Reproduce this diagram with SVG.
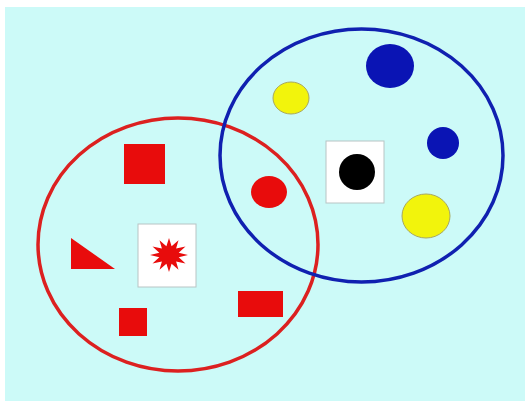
<svg xmlns="http://www.w3.org/2000/svg" width="525" height="401" viewBox="0 0 525 401">
<style>
.red{fill:#e80c0c}
.blue{fill:#0a14b4}
.yellow{fill:#f2f40c;stroke:#a8a860;stroke-width:1}
.box{fill:#ffffff;stroke:#b8c4c4;stroke-width:1}
.set{fill:none;stroke-width:3.5}
</style>
<rect x="0" y="0" width="525" height="401" fill="#ffffff"/>
<rect x="5" y="7" width="520" height="394" fill="#ccfaf8"/>
<g id="set-red"><ellipse class="set" cx="178" cy="244.5" rx="140" ry="126.5" stroke="#dc2020"/></g>
<g id="set-blue"><ellipse class="set" cx="361.5" cy="155.5" rx="141.5" ry="126.5" stroke="#1020b0"/></g>
<g id="red-square"><rect class="red" x="124" y="144" width="41" height="40"/></g>
<g id="red-triangle"><polygon class="red" points="71,238 71,269 115,269"/></g>
<g id="star-box"><rect class="box" x="138" y="224" width="58" height="63"/>
<polygon class="red" points="188,255 178.7,257.3 185.5,263.5 176.1,261.4 178.5,269.7 171.6,263.7 169,272 166.4,263.7 159.5,269.7 161.9,261.4 152.5,263.5 159.3,257.3 150,255 159.3,252.7 152.5,246.5 161.9,248.6 159.5,240.3 166.4,246.3 169,238 171.6,246.3 178.5,240.3 176.1,248.6 185.5,246.5 178.7,252.7"/></g>
<g id="red-small-square"><rect class="red" x="119" y="308" width="28" height="28"/></g>
<g id="red-rect"><rect class="red" x="238" y="291" width="45" height="26"/></g>
<g id="red-circle"><ellipse class="red" cx="269" cy="192" rx="18" ry="16"/></g>
<g id="black-box"><rect class="box" x="326" y="141" width="58" height="62"/>
<circle cx="357" cy="172" r="18" fill="#000000"/></g>
<g id="yellow-small"><ellipse class="yellow" cx="291" cy="98" rx="18" ry="16"/></g>
<g id="blue-big"><ellipse class="blue" cx="390" cy="66" rx="24" ry="22"/></g>
<g id="blue-small"><circle class="blue" cx="443" cy="143" r="16"/></g>
<g id="yellow-big"><ellipse class="yellow" cx="426" cy="216" rx="24" ry="22"/></g>
</svg>
